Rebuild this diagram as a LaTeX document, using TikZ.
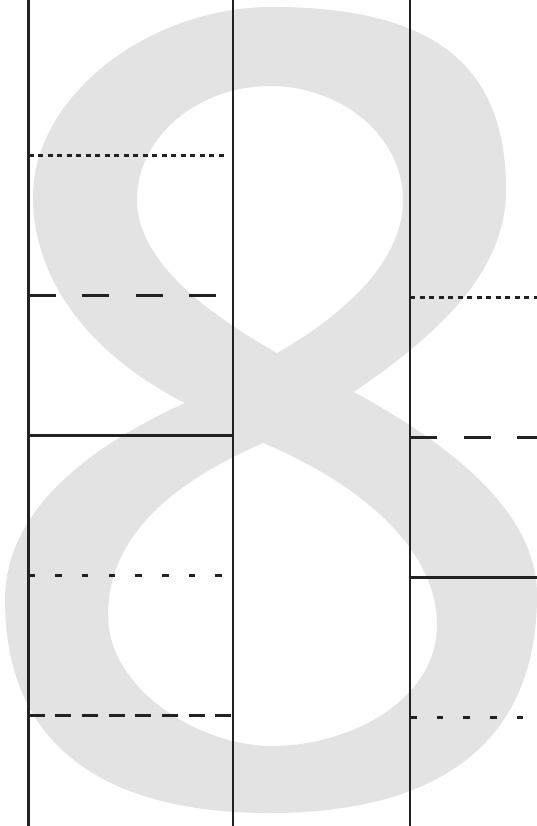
\documentclass[tikz,border=0pt]{standalone}
\definecolor{eightgrey}{RGB}{227,227,227}
\definecolor{ink}{RGB}{34,34,34}
\begin{document}
\begin{tikzpicture}[x=1pt,y=-1pt,
  rule/.style={draw=ink,line width=2.2pt},
  vrule/.style={draw=ink,line width=2.5pt},
  dotrule/.style={rule,dash pattern=on 5pt off 4.5pt},
  longrule/.style={rule,dash pattern=on 27pt off 26.5pt},
  sparserule/.style={rule,dash pattern=on 6.5pt off 20.2pt},
  medrule/.style={rule,dash pattern=on 16pt off 10.7pt}]
\useasboundingbox (0,0) rectangle (537,826);
\fill[white] (0,0) rectangle (537,826);
% background figure eight
\fill[eightgrey,even odd rule]
 (272,7) .. controls (440,7) and (506,70) .. (506,190)
 .. controls (506,280) and (424,343) .. (354,392)
 .. controls (424,431) and (537,500) .. (537,595)
 .. controls (537,750) and (430,813) .. (269,813)
 .. controls (110,813) and (5,750) .. (5,600)
 .. controls (5,500) and (110,437) .. (185,403)
 .. controls (90,355) and (33,280) .. (33,197)
 .. controls (33,95) and (150,7) .. (272,7) -- cycle
 (270,86) .. controls (340,86) and (403,135) .. (403,200)
 .. controls (403,265) and (337,319) .. (277,353)
 .. controls (217,319) and (137,265) .. (137,200)
 .. controls (137,135) and (200,86) .. (270,86) -- cycle
 (263,443) .. controls (343,476) and (437,540) .. (437,625)
 .. controls (437,700) and (350,746) .. (272,746)
 .. controls (200,746) and (108,690) .. (108,615)
 .. controls (108,530) and (183,478) .. (263,443) -- cycle;
% vertical rules
\coordinate (a1) at (28.5,0); \coordinate (a2) at (28.5,826);
\coordinate (b1) at (233,0);  \coordinate (b2) at (233,826);
\coordinate (c1) at (410,0);  \coordinate (c2) at (410,826);
\draw[vrule] (a1) -- (a2);
\draw[vrule] (b1) -- (b2);
\draw[vrule] (c1) -- (c2);
% left column
\coordinate (l1a) at (28.5,155.5); \coordinate (l1b) at (226,155.5);
\coordinate (l2a) at (28.5,295.5); \coordinate (l2b) at (233,295.5);
\coordinate (l3a) at (28.5,435.5); \coordinate (l3b) at (233,435.5);
\coordinate (l4a) at (28.5,575.5); \coordinate (l4b) at (233,575.5);
\coordinate (l5a) at (28.5,715.5); \coordinate (l5b) at (233,715.5);
\draw[dotrule] (l1a) -- (l1b);
\draw[longrule] (l2a) -- (l2b);
\draw[rule] (l3a) -- (l3b);
\draw[sparserule] (l4a) -- (l4b);
\draw[medrule] (l5a) -- (l5b);
% right column
\coordinate (r1a) at (410,297.5); \coordinate (r1b) at (537,297.5);
\coordinate (r2a) at (410,437.5); \coordinate (r2b) at (537,437.5);
\coordinate (r3a) at (410,577.5); \coordinate (r3b) at (537,577.5);
\coordinate (r4a) at (410,717.5); \coordinate (r4b) at (537,717.5);
\draw[dotrule] (r1a) -- (r1b);
\draw[longrule] (r2a) -- (r2b);
\draw[rule] (r3a) -- (r3b);
\draw[sparserule] (r4a) -- (r4b);
\end{tikzpicture}
\end{document}
